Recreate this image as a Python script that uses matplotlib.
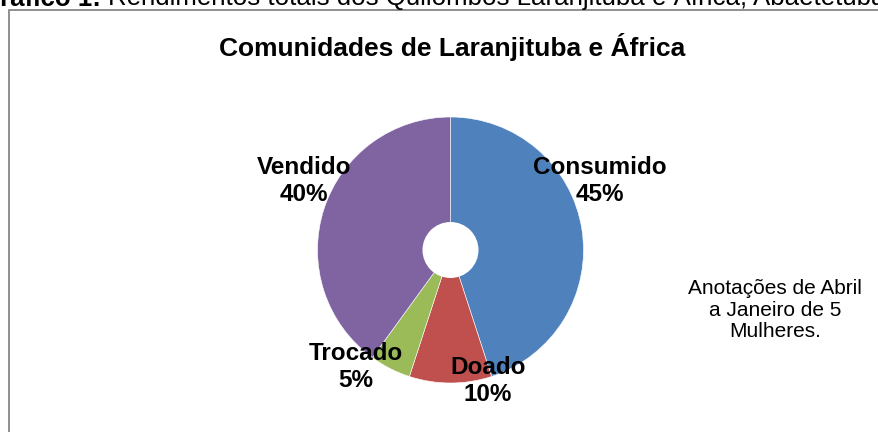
import matplotlib
matplotlib.use("Agg")
import matplotlib.pyplot as plt
from matplotlib.patches import Rectangle, Circle

plt.rcParams['font.family'] = ['Liberation Sans', 'DejaVu Sans']

# Dados
categorias = ['Consumido', 'Doado', 'Trocado', 'Vendido']
valores = [45, 10, 5, 40]
cores = ['#4F81BD', '#C0504D', '#9BBB59', '#8064A2']

titulo = 'Comunidades de Laranjituba e África'
nota = 'Anotações de Abril\na Janeiro de 5\nMulheres.'
cabecalho_neg = 'Gráfico 1:'
cabecalho = 'Rendimentos totais dos Quilombos Laranjituba e África, Abaetetuba'

# posição dos rótulos (em pixels, origem no canto superior esquerdo)
pos_rotulos = {'Consumido': (600, 181), 'Doado': (488, 381),
               'Trocado': (356, 367), 'Vendido': (304, 181)}

W, H = 879, 432
fig = plt.figure(figsize=(W / 100, H / 100), dpi=100)
ax = fig.add_axes([0, 0, 1, 1])

def py(y):
    return H - y

# pizza
cx, cy, r = 450.5, 250, 133
ax.pie(valores, colors=cores, startangle=90, counterclock=False,
       center=(cx, py(cy)), radius=r, frame=True,
       wedgeprops=dict(edgecolor='white', linewidth=0.4))
ax.set_xlim(0, W)
ax.set_ylim(0, H)
ax.axis('off')
ax.add_patch(Circle((cx, py(cy)), 28, facecolor='white', edgecolor='none', zorder=5))

# moldura do gráfico
ax.add_patch(Rectangle((9.5, py(900)), 1000, 900 - 9.5, fill=False,
                       edgecolor='#878787', lw=1.3, zorder=1))

total = sum(valores)
for cat, v in zip(categorias, valores):
    x, y = pos_rotulos[cat]
    ax.text(x, py(y), '%s\n%d%%' % (cat, round(100 * v / total)),
            ha='center', va='center', fontsize=17.5, fontweight='bold',
            linespacing=1.17, zorder=6)

ax.text(452, py(47), titulo, ha='center', va='center', fontsize=19,
        fontweight='bold')
ax.text(775, py(310), nota, ha='center', va='center', fontsize=15,
        linespacing=1.15)

# cabeçalho cortado no topo
ax.text(101, py(5.5), cabecalho_neg, ha='right', va='baseline', fontsize=18.6,
        fontweight='bold', clip_on=False)
ax.text(108, py(5.5), cabecalho, ha='left', va='baseline', fontsize=18.6,
        clip_on=False)

fig.savefig('out.png', dpi=100)
